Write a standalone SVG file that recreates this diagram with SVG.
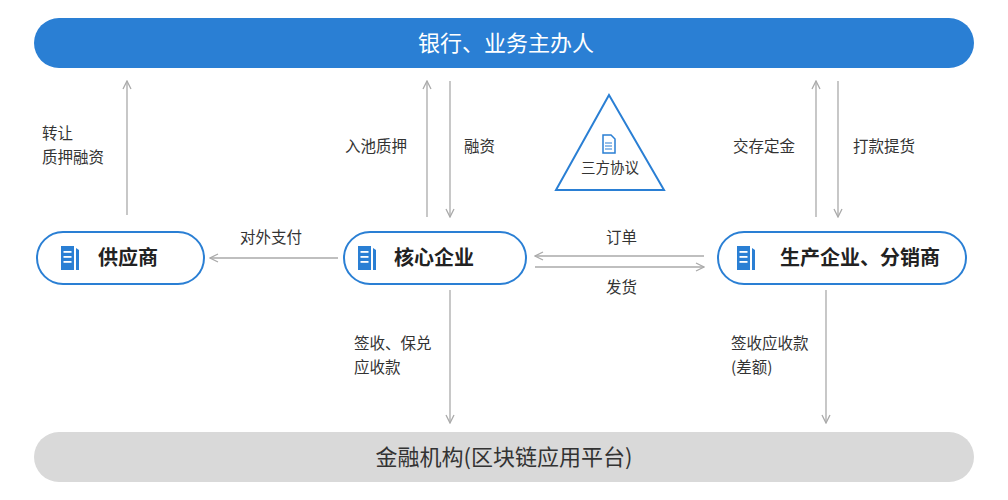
<svg xmlns="http://www.w3.org/2000/svg" width="1008" height="500" viewBox="0 0 1008 500">
<defs>
<style>
text{font-family:"Noto Sans CJK SC","Noto Sans",sans-serif;}
.lbl{font-size:15.5px;fill:#333;}
.node{fill:#fff;stroke:#2a7fd4;stroke-width:2;}
.nt{font-size:20px;font-weight:bold;fill:#222;}
.ln{stroke:#aaa;stroke-width:1.3;fill:none;marker-end:url(#ah);}
</style>
<marker id="ah" viewBox="0 0 10 10" refX="9" refY="5" markerWidth="10" markerHeight="10" markerUnits="userSpaceOnUse" orient="auto"><path d="M1,1 L9,5 L1,9" fill="none" stroke="#aaa" stroke-width="1.3"/></marker>
<g id="ico"><rect x="0" y="0" width="13" height="24" fill="#2a7fd4"/><rect x="2.5" y="5" width="8" height="1.8" fill="#fff"/><rect x="2.5" y="10" width="8" height="1.8" fill="#fff"/><rect x="2.5" y="15" width="8" height="1.8" fill="#fff"/><path d="M15,2 L18,4 L18,24 L15,24Z" fill="#2a7fd4"/></g>
</defs>
<rect width="1008" height="500" fill="#fff"/>
<g id="bank"><rect x="34" y="18" width="940" height="50" rx="25" fill="#2a7fd4"/><text x="506" y="51" font-size="22" fill="#fff" text-anchor="middle">银行、业务主办人</text></g>
<g id="platform"><rect x="34" y="432" width="940" height="50" rx="25" fill="#d9d9d9"/><text x="504" y="465" font-size="22" fill="#333" text-anchor="middle">金融机构(区块链应用平台)</text></g>
<g id="supplier"><rect x="37" y="232" width="167" height="52" rx="26" class="node"/><use href="#ico" x="61" y="246"/><text x="98" y="265" class="nt">供应商</text></g>
<g id="core"><rect x="344" y="232" width="182" height="52" rx="26" class="node"/><use href="#ico" x="358" y="246"/><text x="394" y="265" class="nt">核心企业</text></g>
<g id="producer"><rect x="718" y="232" width="248" height="52" rx="26" class="node"/><use href="#ico" x="737" y="246"/><text x="780" y="265" class="nt">生产企业、分销商</text></g>
<g id="agreement"><path d="M609,95 L556,190 L664,190Z" fill="#fff" stroke="#2a7fd4" stroke-width="2"/><path d="M603,135 h8 l4,4 v14 h-12z" fill="none" stroke="#2a7fd4" stroke-width="1.5"/><path d="M605,143h7M605,146h7M605,149h7" stroke="#2a7fd4" stroke-width="1.2"/><text x="610" y="173" font-size="14.5" fill="#333" text-anchor="middle">三方协议</text></g>
<g id="connectors">
<line x1="127" y1="215" x2="127" y2="81" class="ln"/>
<line x1="427" y1="217" x2="427" y2="81" class="ln"/>
<line x1="450" y1="81" x2="450" y2="217" class="ln"/>
<line x1="816" y1="217" x2="816" y2="81" class="ln"/>
<line x1="838" y1="81" x2="838" y2="217" class="ln"/>
<line x1="338" y1="258" x2="210" y2="258" class="ln"/>
<line x1="704" y1="256" x2="535" y2="256" class="ln"/>
<line x1="535" y1="267" x2="704" y2="267" class="ln"/>
<line x1="450" y1="290" x2="450" y2="423" class="ln"/>
<line x1="826" y1="290" x2="826" y2="423" class="ln"/>
<text x="42" y="139" class="lbl">转让</text>
<text x="42" y="163" class="lbl">质押融资</text>
<text x="345" y="152" class="lbl">入池质押</text>
<text x="464" y="152" class="lbl">融资</text>
<text x="733" y="152" class="lbl">交存定金</text>
<text x="853" y="152" class="lbl">打款提货</text>
<text x="240" y="243" class="lbl">对外支付</text>
<text x="606" y="243" class="lbl">订单</text>
<text x="606" y="293" class="lbl">发货</text>
<text x="354" y="349" class="lbl">签收、保兑</text>
<text x="354" y="373" class="lbl">应收款</text>
<text x="731" y="349" class="lbl">签收应收款</text>
<text x="731" y="373" class="lbl">(差额)</text>
</g>
</svg>
